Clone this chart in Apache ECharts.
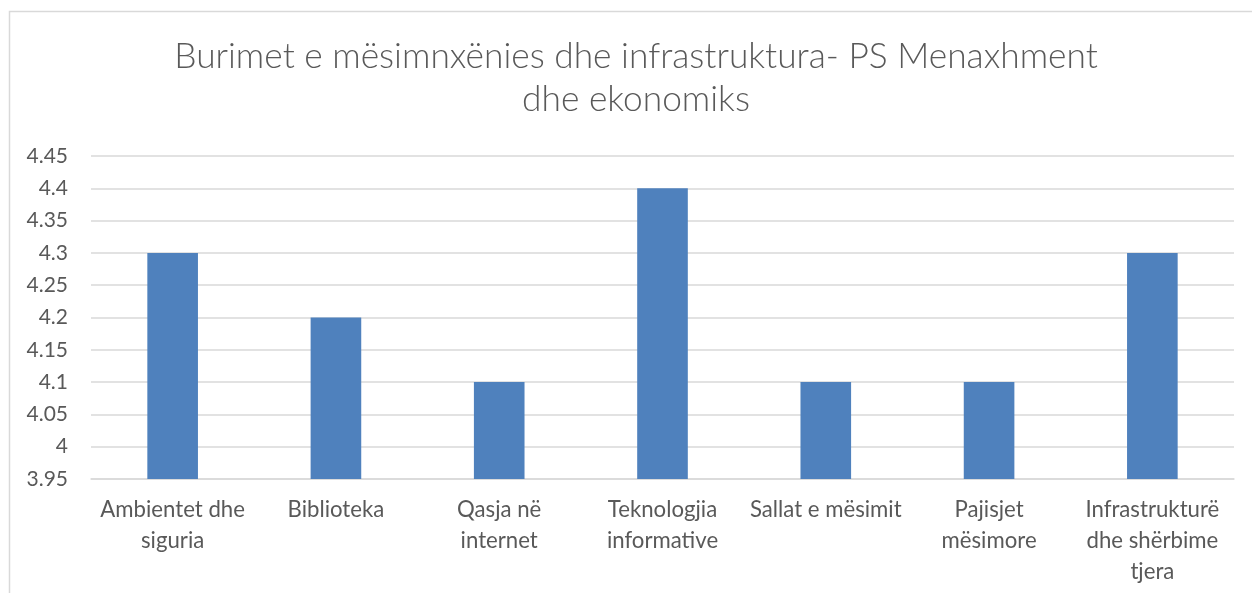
<!DOCTYPE html>
<html>
<head>
<meta charset="utf-8">
<script src="https://cdn.jsdelivr.net/npm/echarts@6/dist/echarts.min.js"></script>
<style>
  html, body { margin: 0; padding: 0; background: #fff; }
  #chart { width: 1252px; height: 593px; }
</style>
</head>
<body>
<div id="chart"></div>
<script>
const titleText = 'Burimet e mësimnxënies dhe infrastruktura- PS Menaxhment\ndhe ekonomiks';
const categories = [
    'Ambientet dhe\nsiguria',
    'Biblioteka',
    'Qasja në\ninternet',
    'Teknologjia\ninformative',
    'Sallat e mësimit',
    'Pajisjet\nmësimore',
    'Infrastrukturë\ndhe shërbime\ntjera'
];
const values = [4.3, 4.2, 4.1, 4.4, 4.1, 4.1, 4.3];
const yMin = 3.95;
const yMax = 4.45;
const yStep = 0.05;

const textColor = '#595959';
const fontFamily = 'Lato, "Open Sans", sans-serif';

const myChart = echarts.init(document.getElementById('chart'));

myChart.setOption({
    animation: false,
    graphic: [{
        type: 'rect',
        shape: { x: 9.5, y: 11.5, width: 1260, height: 600 },
        style: { fill: 'none', stroke: '#d9d9d9', lineWidth: 1.5 },
        silent: true
    }],
    title: {
        text: titleText,
        left: 631,
        textAlign: 'center',
        top: 30,
        textStyle: {
            color: textColor,
            fontFamily: fontFamily,
            fontWeight: 300,
            fontSize: 35.3,
            lineHeight: 43
        }
    },
    grid: {
        left: 91,
        right: 18,
        top: 156,
        bottom: 114
    },
    xAxis: {
        type: 'category',
        data: categories,
        axisLine: { show: true, lineStyle: { color: '#d9d9d9', width: 1.5 } },
        axisTick: { show: false },
        axisLabel: {
            interval: 0,
            color: textColor,
            fontFamily: fontFamily,
            fontSize: 22.2,
            lineHeight: 31,
            margin: 15
        }
    },
    yAxis: {
        type: 'value',
        min: yMin,
        max: yMax,
        interval: yStep,
        axisLine: { show: false },
        axisTick: { show: false },
        splitLine: { lineStyle: { color: '#d9d9d9', width: 1.5 } },
        axisLabel: {
            color: textColor,
            fontFamily: fontFamily,
            fontSize: 21,
            margin: 23,
            formatter: function (v) { return String(+v.toFixed(2)); }
        }
    },
    series: [{
        type: 'bar',
        data: values,
        barWidth: '31%',
        itemStyle: { color: '#4f81bd' }
    }]
});
</script>
</body>
</html>
